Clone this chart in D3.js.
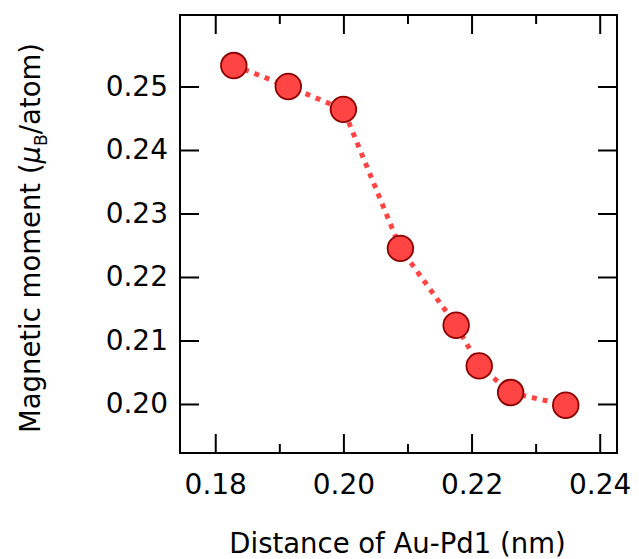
<!DOCTYPE html>
<html><head><meta charset="utf-8">
<script src="https://cdn.jsdelivr.net/npm/d3@7"></script>
<style>html,body{margin:0;padding:0;background:#fff;}</style>
</head><body>
<svg id="chart" width="639" height="559"></svg>
<script>
const distance = [0.1829, 0.1914, 0.2000, 0.2089, 0.2176, 0.2212, 0.2261, 0.2347];
const moment   = [0.2533, 0.2500, 0.2464, 0.2245, 0.2124, 0.2060, 0.2018, 0.1998];
const xMajor = [0.18, 0.20, 0.22, 0.24];
const xMinor = [0.19, 0.21, 0.23];
const yMajor = [0.20, 0.21, 0.22, 0.23, 0.24, 0.25];

const L = 180, R = 617, T = 15, B = 453;
const font = "DejaVu Sans, sans-serif";
const svg = d3.select("#chart");
const x = d3.scaleLinear().domain([0.1745, 0.2427]).range([L, R]);
const y = d3.scaleLinear().domain([0.19228, 0.26126]).range([B, T]);

const fmt = d3.format(".2f");
function styleAxis(g){
  g.select(".domain").remove();
  g.selectAll(".tick line").attr("stroke", "#000").attr("stroke-width", 2);
  g.selectAll(".tick text").attr("font-family", font).attr("font-size", 28).attr("fill", "#000");
}
// bottom
svg.append("g").attr("transform", `translate(0,${B})`)
  .call(d3.axisBottom(x).tickValues(xMajor).tickFormat(fmt).tickSizeInner(-19).tickSizeOuter(0).tickPadding(21))
  .call(styleAxis);
svg.append("g").attr("transform", `translate(0,${B})`)
  .call(d3.axisBottom(x).tickValues(xMinor).tickFormat("").tickSizeInner(-9).tickSizeOuter(0))
  .call(styleAxis);
// top
svg.append("g").attr("transform", `translate(0,${T})`)
  .call(d3.axisTop(x).tickValues(xMajor).tickFormat("").tickSizeInner(-19).tickSizeOuter(0))
  .call(styleAxis);
svg.append("g").attr("transform", `translate(0,${T})`)
  .call(d3.axisTop(x).tickValues(xMinor).tickFormat("").tickSizeInner(-9).tickSizeOuter(0))
  .call(styleAxis);
// left
svg.append("g").attr("transform", `translate(${L},0)`)
  .call(d3.axisLeft(y).tickValues(yMajor).tickFormat(fmt).tickSizeInner(-19).tickSizeOuter(0).tickPadding(12))
  .call(styleAxis);
// right
svg.append("g").attr("transform", `translate(${R},0)`)
  .call(d3.axisRight(y).tickValues(yMajor).tickFormat("").tickSizeInner(-19).tickSizeOuter(0))
  .call(styleAxis);

// frame
svg.append("rect").attr("x", L).attr("y", T).attr("width", R - L).attr("height", B - T)
  .attr("fill", "none").attr("stroke", "#000").attr("stroke-width", 2);

const pts = distance.map((d, i) => [d, moment[i]]);
svg.append("path").datum(pts)
  .attr("d", d3.line().x(d => x(d[0])).y(d => y(d[1])))
  .attr("fill", "none").attr("stroke", "#ff4444").attr("stroke-width", 5)
  .attr("stroke-dasharray", "5,6");

svg.append("g").selectAll("circle").data(pts).join("circle")
  .attr("cx", d => x(d[0])).attr("cy", d => y(d[1])).attr("r", 12.8)
  .attr("fill", "#ff4444").attr("stroke", "#8b0000").attr("stroke-width", 1.8);

// axis titles
svg.append("text").attr("x", (L + R) / 2 - 1).attr("y", 553)
  .attr("text-anchor", "middle").attr("font-family", font).attr("font-size", 27.5).attr("fill", "#000")
  .text("Distance of Au-Pd1 (nm)");

const yt = svg.append("text").attr("transform", `translate(40,${(T + B) / 2 + 4}) rotate(-90)`)
  .attr("text-anchor", "middle").attr("font-family", font).attr("font-size", 27.5).attr("fill", "#000");
yt.append("tspan").text("Magnetic moment (");
yt.append("tspan").attr("font-style", "italic").text("μ");
yt.append("tspan").attr("font-size", 17).attr("dy", 7).text("B");
yt.append("tspan").attr("dy", -7).text("/atom)");
</script>
</body></html>
